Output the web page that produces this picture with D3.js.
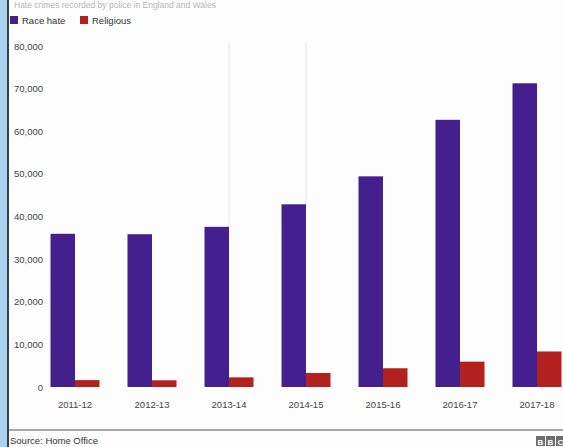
<!DOCTYPE html>
<html>
<head>
<meta charset="utf-8">
<script src="https://cdn.jsdelivr.net/npm/d3@7"></script>
<style>
  body { margin: 0; background: #fff; }
  text { font-family: "Liberation Sans", Arial, sans-serif; }
</style>
</head>
<body>
<script>
var years = ['2011-12', '2012-13', '2013-14', '2014-15', '2015-16', '2016-17', '2017-18'];
var raceHate = [35944, 35845, 37575, 42862, 49419, 62685, 71251];
var religious = [1618, 1572, 2264, 3293, 4400, 5949, 8336];
var yTicks = [0, 10000, 20000, 30000, 40000, 50000, 60000, 70000, 80000];
var seriesNames = ['Race hate', 'Religious'];
var seriesColors = ['#43208d', '#b3211f'];

var W = 563, H = 447;
var svg = d3.select('body').append('svg').attr('width', W).attr('height', H);

svg.append('rect').attr('width', W).attr('height', H).attr('fill', '#fdfdfd');

// left window edge
svg.append('rect').attr('x', 0).attr('y', 0).attr('width', 7).attr('height', H).attr('fill', '#a9d3ee');
svg.append('rect').attr('x', 7).attr('y', 0).attr('width', 2).attr('height', H).attr('fill', '#3a3f47');

// faded title at the top edge
svg.append('text').attr('x', 14).attr('y', 8).attr('font-size', 8.5).attr('fill', '#b5b5b5')
  .text('Hate crimes recorded by police in England and Wales');

var y = d3.scaleLinear().domain([0, 80000]).range([387, 46]);
var x0 = d3.scaleBand().domain(years).range([36.5, 575.5]).padding(0);
var x1 = d3.scaleBand().domain(seriesNames).range([-24.5, 24.5]);

// legend
var leg = svg.append('g').selectAll('g').data(seriesNames).enter().append('g')
  .attr('transform', function(d, i) { return 'translate(' + (10 + i * 70) + ',16)'; });
leg.append('rect').attr('width', 8).attr('height', 8).attr('fill', function(d, i) { return seriesColors[i]; });
leg.append('text').attr('x', 12).attr('y', 8).attr('font-size', 9.5).attr('fill', '#333').text(function(d) { return d; });

// y axis labels
var yAxis = d3.axisLeft(y).tickValues(yTicks).tickSize(0).tickPadding(0)
  .tickFormat(function(d) { return d3.format(',')(d); });
var ya = svg.append('g').attr('transform', 'translate(43,0)').call(yAxis);
ya.select('.domain').remove();
ya.selectAll('text').attr('font-size', 9.5).attr('fill', '#444').attr('font-family', '"Liberation Sans", Arial, sans-serif');

// faint vertical lines
svg.selectAll('line.faint').data([2, 3]).enter().append('line').attr('class', 'faint')
  .attr('x1', function(i) { return x0(years[i]) + x0.bandwidth() / 2; })
  .attr('x2', function(i) { return x0(years[i]) + x0.bandwidth() / 2; })
  .attr('y1', 43)
  .attr('y2', function(i) { return y(raceHate[i]); })
  .attr('stroke', '#eeeeee').attr('stroke-width', 1.5);

// bars
var groups = svg.selectAll('g.grp').data(years).enter().append('g').attr('class', 'grp')
  .attr('transform', function(d) { return 'translate(' + (x0(d) + x0.bandwidth() / 2) + ',0)'; });
groups.selectAll('rect').data(function(d, i) {
    return [{ s: seriesNames[0], v: raceHate[i], c: seriesColors[0] },
            { s: seriesNames[1], v: religious[i], c: seriesColors[1] }];
  }).enter().append('rect')
  .attr('x', function(d) { return x1(d.s); })
  .attr('width', x1.bandwidth())
  .attr('y', function(d) { return y(d.v); })
  .attr('height', function(d) { return y(0) - y(d.v); })
  .attr('fill', function(d) { return d.c; });

// x axis labels
var xAxis = d3.axisBottom(x0).tickSize(0).tickPadding(0);
var xa = svg.append('g').attr('transform', 'translate(0,401)').call(xAxis);
xa.select('.domain').remove();
xa.selectAll('text').attr('font-size', 9.5).attr('fill', '#444').attr('font-family', '"Liberation Sans", Arial, sans-serif');

// footer
svg.append('line').attr('x1', 9).attr('x2', W).attr('y1', 430).attr('y2', 430)
  .attr('stroke', '#8a8a8a').attr('stroke-width', 1.5);
svg.append('text').attr('x', 10).attr('y', 444).attr('font-size', 9.5).attr('fill', '#333').text('Source: Home Office');
var bbc = svg.append('g').selectAll('g').data(['B', 'B', 'C']).enter().append('g')
  .attr('transform', function(d, i) { return 'translate(' + (536 + i * 10) + ',436)'; });
bbc.append('rect').attr('width', 9).attr('height', 10).attr('fill', '#6d6d6d');
bbc.append('text').attr('x', 4.5).attr('y', 8.5).attr('text-anchor', 'middle').attr('font-size', 8)
  .attr('font-weight', 'bold').attr('fill', '#fff').text(function(d) { return d; });
</script>
</body>
</html>
